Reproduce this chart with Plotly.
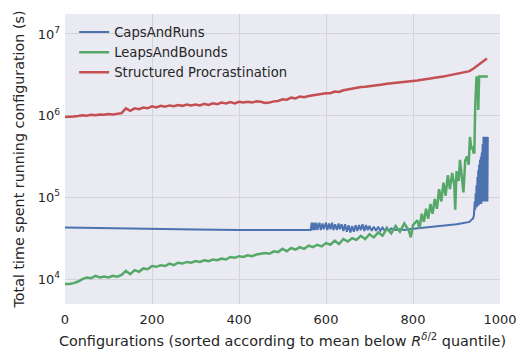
import plotly.graph_objects as go

# ---------------- data ----------------
red_x = list(range(0, 980, 10))
red_y = [9.66e5, 9.66e5, 9.77e5, 9.89e5, 1.012e6, 1.0e6, 1.023e6, 1.012e6, 1.035e6, 1.023e6,
         1.047e6, 1.035e6, 1.059e6, 1.072e6, 1.230e6, 1.148e6, 1.230e6, 1.202e6, 1.259e6, 1.230e6,
         1.303e6, 1.259e6, 1.318e6, 1.288e6, 1.334e6, 1.303e6, 1.349e6, 1.318e6, 1.365e6, 1.334e6,
         1.365e6, 1.334e6, 1.396e6, 1.349e6, 1.413e6, 1.380e6, 1.445e6, 1.413e6, 1.462e6, 1.413e6,
         1.479e6, 1.445e6, 1.479e6, 1.445e6, 1.496e6, 1.479e6, 1.429e6, 1.445e6, 1.496e6, 1.514e6,
         1.585e6, 1.567e6, 1.660e6, 1.622e6, 1.718e6, 1.679e6, 1.738e6, 1.778e6, 1.820e6, 1.841e6,
         1.884e6, 1.884e6, 1.972e6, 1.950e6, 2.042e6, 2.089e6, 2.138e6, 2.213e6, 2.239e6, 2.265e6,
         2.291e6, 2.344e6, 2.371e6, 2.399e6, 2.455e6, 2.483e6, 2.512e6, 2.541e6, 2.570e6, 2.630e6,
         2.661e6, 2.692e6, 2.754e6, 2.786e6, 2.851e6, 2.917e6, 2.951e6, 3.020e6, 3.090e6, 3.162e6,
         3.236e6, 3.311e6, 3.388e6, 3.508e6, 3.802e6, 4.169e6, 4.571e6, 5.012e6]

blue_x = [0, 50, 100, 150, 200, 300, 400, 500, 560, 565, 567, 569, 572, 574, 578, 580, 585, 588,
          592, 595, 600, 603, 607, 610, 614, 617, 621, 625, 629, 632, 636, 640, 644, 648, 652, 656,
          660, 664, 668, 672, 676, 680, 684, 688, 692, 696, 700, 705, 710, 715, 720, 725, 730, 735,
          740, 745, 750, 760, 770, 780, 790, 800, 810, 820, 830, 840, 850, 860, 870, 880, 890, 900,
          910, 920, 930, 935, 938,
          940, 941, 942, 943, 944, 945, 946, 947, 948, 949, 950, 951, 952, 953, 954, 955, 956, 957,
          958, 959, 960, 961, 962, 963, 964, 965, 966, 967, 968, 969, 970, 971, 972]
blue_y = [4.27e4, 4.22e4, 4.17e4, 4.12e4, 4.07e4, 4.03e4, 3.98e4, 3.98e4, 3.98e4, 3.98e4,
          4.90e4, 3.98e4, 4.90e4, 3.98e4, 4.90e4, 3.98e4, 4.90e4, 3.98e4,
          4.79e4, 4.07e4, 4.90e4, 3.98e4, 4.79e4, 4.07e4, 4.90e4, 3.98e4, 4.68e4, 3.98e4, 4.79e4,
          4.07e4, 4.68e4, 3.89e4, 4.68e4, 3.80e4, 4.57e4, 3.72e4,
          4.47e4, 3.80e4, 4.57e4, 3.89e4, 4.57e4, 3.98e4, 4.68e4, 3.89e4, 4.57e4, 3.98e4, 4.47e4,
          3.89e4, 4.37e4, 3.89e4, 4.37e4, 3.89e4, 4.27e4, 3.89e4,
          4.27e4, 3.89e4, 4.17e4, 3.98e4, 4.07e4, 3.98e4, 4.07e4, 4.12e4, 4.12e4, 4.17e4, 4.22e4,
          4.32e4, 4.37e4, 4.42e4, 4.47e4, 4.57e4, 4.62e4, 4.68e4,
          4.79e4, 4.90e4, 5.01e4, 5.37e4, 5.50e4,
          6.03e4, 7.08e4, 8.91e4, 7.08e4, 1.12e5, 7.59e4, 1.41e5, 7.59e4, 1.78e5, 7.94e4, 2.14e5,
          7.94e4, 2.51e5, 8.32e4, 2.88e5, 8.32e4, 3.16e5, 8.32e4,
          3.55e5, 8.91e4, 4.47e5, 8.91e4, 5.50e5, 8.91e4, 5.50e5, 8.91e4, 5.50e5, 8.91e4, 5.50e5,
          8.91e4, 5.50e5, 8.91e4, 5.50e5, 5.50e5]

green_x = [0, 10, 20, 30, 40, 50, 60, 70, 80, 90, 100, 110, 120, 130, 140, 150, 160, 170, 180,
           190, 200, 210, 220, 230, 240, 250, 260, 270, 280, 290, 300, 310, 320, 330, 340, 350,
           360, 370, 380, 390, 400, 410, 420, 430, 440, 450, 460, 470, 480, 490, 500, 510, 520,
           530, 540, 550, 560, 570, 580, 590, 600, 610, 620, 630, 640, 650, 660, 670, 680, 690,
           700, 710, 720, 730, 740, 750, 760, 770, 780, 790, 795, 800, 810, 815, 820, 825, 830,
           835, 840, 845, 850, 855, 860, 865, 870, 875, 880, 885, 890, 895, 897, 900, 905, 908,
           912, 916, 920, 924, 928, 931, 934, 937, 939, 941, 943, 946, 949, 950, 952, 960, 972]
green_y = [8710, 8710, 8913, 9333, 10000, 10471, 10233, 10965, 10471, 10715, 10471, 10965, 10715,
           11220, 12589, 11482, 12882, 12303, 13490, 13183, 14454, 14125, 14791, 14454, 15488,
           14791, 15849, 15488, 16218, 15849, 16596, 16218, 16982, 16596, 17378, 16982, 17783,
           17378, 18621, 18197, 19055, 18621, 19498, 19055, 19953, 20417, 20893, 20417, 21878,
           21380, 23442, 21878, 23988, 22909, 24547, 23442, 25704, 24547, 26303, 25119, 27542,
           26303, 29512, 26915, 30903, 28840, 31623, 30200, 33884, 30903, 35481, 32359, 37154,
           33884, 41687, 36308, 44668, 38019, 47863, 39811, 32359, 45709, 52481, 41687, 63096,
           50119, 72444, 54954, 83176, 63096, 95499, 72444, 125893, 89125, 151356, 104713,
           186209, 125893, 199526, 141254, 70795, 208930, 158489, 288403, 177828, 114815,
           281838, 316228, 251189, 549541, 389045, 416869, 354813, 354813, 1288250, 3019952,
           2511886, 1174898, 3019952, 3019952, 3019952]

series = [
    ("CapsAndRuns", blue_x, blue_y, "#4C72B0", 2),
    ("LeapsAndBounds", green_x, green_y, "#55A868", 2.5),
    ("Structured Procrastination", red_x, red_y, "#C44E52", 2.5),
]

y_tickvals = [1e4, 1e5, 1e6, 1e7]
y_ticktext = ["10<sup>4</sup>", "10<sup>5</sup>", "10<sup>6</sup>", "10<sup>7</sup>"]
x_tickvals = [0, 200, 400, 600, 800, 1000]

# ---------------- figure ----------------
fig = go.Figure()
for name, xs, ys, col, w in series:
    fig.add_trace(go.Scatter(x=xs, y=ys, mode="lines", name=name,
                             line=dict(color=col, width=w)))

font = "DejaVu Sans, Liberation Sans, sans-serif"
txt = "#262626"
fig.update_layout(
    width=518, height=351,
    margin=dict(l=65, r=18, t=14, b=47, autoexpand=False),
    paper_bgcolor="white",
    plot_bgcolor="#EAEAF2",
    font=dict(family=font, size=13, color=txt),
    showlegend=True,
    legend=dict(x=0.021, y=0.99, xanchor="left", yanchor="top",
                bgcolor="rgba(0,0,0,0)", font=dict(size=13.2, color=txt),
                tracegroupgap=0, itemwidth=30),
)
fig.update_xaxes(
    range=[0, 1000], tickvals=x_tickvals, showgrid=True, gridcolor="#D3D3D8", gridwidth=1,
    zeroline=False, showline=False, ticks="", tickfont=dict(size=13, color=txt),
    automargin=False, ticklabelstandoff=6,
    title=dict(text="Configurations (sorted according to mean below <i>R</i><sup><i>δ</i>/2</sup> quantile)",
               font=dict(size=14.4, color=txt), standoff=9),
)
fig.update_yaxes(
    type="log", range=[3.695, 7.244], tickvals=y_tickvals, ticktext=y_ticktext,
    showgrid=True, gridcolor="#D3D3D8", gridwidth=1, zeroline=False, showline=False, ticks="",
    tickfont=dict(size=13, color=txt), automargin=False, ticklabelstandoff=4,
    title=dict(text="Total time spent running configuration (s)",
               font=dict(size=14.3, color=txt), standoff=9),
)

fig.write_html("out.html", config={"displayModeBar": False},
               post_script="document.body.style.margin='0';document.body.style.padding='0';")
